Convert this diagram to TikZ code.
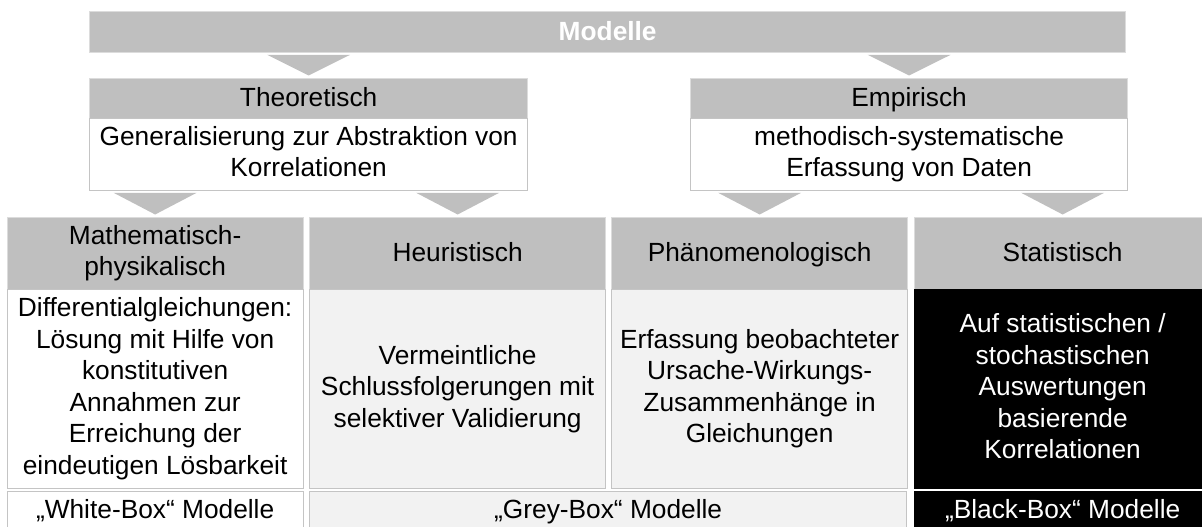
\documentclass[tikz,border=0pt]{standalone}
\usepackage{fontspec}
\setmainfont{Liberation Sans}
\usetikzlibrary{calc}
\definecolor{mgray}{HTML}{BFBFBF}
\definecolor{lgray}{HTML}{F2F2F2}
\definecolor{bgray}{HTML}{C4C4C4}
\newcommand{\capstrut}{\rule[-0.24em]{0pt}{1.1em}}
\newcommand{\downtri}[2]{\fill[trifill] ($(#1.south -| #2.north)+(-41.5,1.5)$) -- ($(#1.south -| #2.north)+(41.5,1.5)$) -- ($(#2.north)+(0,-2.5)$) -- cycle;}
\begin{document}
\begin{tikzpicture}[x=1pt,y=-1pt,
  every node/.style={font=\fontsize{26.3}{31.5}\selectfont, inner sep=0pt, align=center,
    execute at begin node=\capstrut, execute at end node=\capstrut},
  box/.style={anchor=north west, line width=1.3pt},
  hdr/.style={box, fill=mgray, draw=mgray!55!white},
  bodyW/.style={box, fill=white, draw=bgray},
  bodyL/.style={box, fill=lgray, draw=bgray},
  bodyB/.style={box, fill=black, draw=black, text=white},
  trifill/.style={fill=mgray},
  colw/.style={minimum width=296pt}]
\useasboundingbox (0,0) rectangle (1202,527);
% top bar
\node[hdr, minimum width=1036pt, minimum height=41pt, text=white,
      font=\bfseries\fontsize{26.3}{31.5}\selectfont] (bar) at (89,11) {Modelle};
% second level
\node[hdr, minimum width=438pt, minimum height=40pt] (theoH) at (89,78) {Theoretisch};
\node[bodyW, minimum width=438pt, minimum height=72pt] (theoB) at (89,118) {Generalisierung zur Abstraktion von\\Korrelationen};
\node[hdr, minimum width=437pt, minimum height=40pt] (empH) at (690,78) {Empirisch};
\node[bodyW, minimum width=437pt, minimum height=72pt] (empB) at (690,118) {methodisch-systematische\\Erfassung von Daten};
% columns: headers
\node[hdr, colw, minimum height=72pt] (c1h) at (6.5,217) {Mathematisch-\\physikalisch};
\node[hdr, colw, minimum height=72pt] (c2h) at (309,217) {Heuristisch};
\node[hdr, colw, minimum height=72pt] (c3h) at (611,217) {Phänomenologisch};
\node[hdr, colw, minimum height=72pt] (c4h) at (914,217) {Statistisch};
% columns: bodies
\node[bodyW, colw, minimum height=199pt] (c1b) at (6.5,289) {Differentialgleichungen:\\Lösung mit Hilfe von\\konstitutiven\\Annahmen zur\\Erreichung der\\eindeutigen Lösbarkeit};
\node[bodyL, colw, minimum height=199pt] (c2b) at (309,289) {Vermeintliche\\Schlussfolgerungen mit\\selektiver Validierung};
\node[bodyL, colw, minimum height=199pt] (c3b) at (611,289) {Erfassung beobachteter\\Ursache-Wirkungs-\\Zusammenhänge in\\Gleichungen};
\node[bodyB, colw, minimum height=199pt] (c4b) at (914,289) {Auf statistischen /\\stochastischen\\Auswertungen\\basierende\\Korrelationen};
% footers
\node[bodyW, colw, minimum height=37pt] (f1) at (6.5,491) {„White-Box“ Modelle};
\node[bodyL, minimum width=597pt, minimum height=37pt] (f2) at (309,491) {„Grey-Box“ Modelle};
\node[bodyB, colw, minimum height=37pt] (f3) at (914,491) {„Black-Box“ Modelle};
% arrows (triangles)
\downtri{bar}{theoH}
\downtri{bar}{empH}
\downtri{theoB}{c1h}
\downtri{theoB}{c2h}
\downtri{empB}{c3h}
\downtri{empB}{c4h}
\end{tikzpicture}
\end{document}
